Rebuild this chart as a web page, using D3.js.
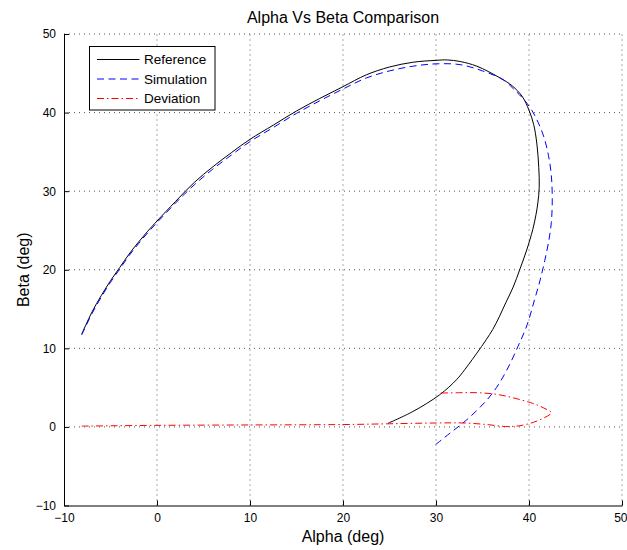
<!DOCTYPE html>
<html>
<head>
<meta charset="utf-8">
<script src="https://cdn.jsdelivr.net/npm/d3@7"></script>
<style>
  html, body { margin: 0; padding: 0; background: #fff; }
  svg { display: block; font-family: "Liberation Sans", Arial, sans-serif; }
</style>
</head>
<body>
<svg id="chart" width="627" height="550"></svg>
<script>
// ---- data (alpha, beta in degrees) ----
const xTicks = [-10, 0, 10, 20, 30, 40, 50];
const yTicks = [-10, 0, 10, 20, 30, 40, 50];

const refAlpha = [-8.1, -7, -6, -5, -4, -3, -2, -1, 0, 2, 4, 6, 8, 10, 12.5, 15, 17.5, 20, 22.5, 25, 27.5, 30, 31.2, 32.6, 34.4, 36.9, 38.2, 39.3, 40.0, 40.5, 40.85, 41.05, 41.1, 40.95, 40.75, 40.4, 39.75, 39.0, 38.3, 37.5, 36.8, 36.1, 35.4, 34.7, 33.1, 32.2, 30.4, 27.5, 24.85];
const refBeta  = [11.8, 14.6, 16.7, 18.6, 20.3, 22.0, 23.5, 24.9, 26.2, 28.7, 31.1, 33.1, 34.9, 36.6, 38.4, 40.2, 41.8, 43.3, 44.8, 45.8, 46.4, 46.65, 46.7, 46.5, 45.9, 44.4, 43.4, 42.0, 40.3, 38.5, 36.0, 33.0, 30.5, 28.5, 27.0, 25.1, 22.5, 20.0, 17.8, 15.8, 14.0, 12.4, 11.1, 9.9, 7.3, 6.0, 4.1, 1.95, 0.47];

const simAlpha = [-8.1, -7, -6, -5, -4, -3, -2, -1, 0, 2, 4, 6, 8, 10, 12.5, 15, 17.5, 20, 22.5, 25, 27.5, 30, 32.6, 35.0, 37.2, 38.6, 39.5, 40.3, 41.0, 41.6, 42.1, 42.4, 42.5, 42.4, 42.1, 41.7, 41.2, 40.6, 39.8, 38.8, 37.6, 36.5, 35.3, 33.3, 31.5, 29.9];
const simBeta  = [11.7, 14.4, 16.5, 18.4, 20.1, 21.8, 23.3, 24.7, 26.0, 28.5, 30.8, 32.8, 34.6, 36.3, 38.1, 39.9, 41.5, 43.0, 44.4, 45.3, 45.9, 46.2, 46.1, 45.3, 44.2, 42.7, 41.6, 40.3, 38.7, 36.9, 34.5, 32.0, 29.0, 26.0, 23.5, 21.2, 18.7, 16.2, 13.0, 10.2, 7.2, 5.0, 3.2, 0.9, -0.8, -2.3];

const devAlpha = [-8.1, 0, 10, 20, 25, 30, 33, 35.5, 37.5, 39.0, 40.5, 41.7, 42.4, 41.6, 40.4, 38.3, 36.5, 34.5, 32.5, 30.2];
const devBeta  = [0.1, 0.2, 0.25, 0.3, 0.4, 0.5, 0.5, 0.3, 0.05, 0.15, 0.6, 1.2, 1.8, 2.4, 3.0, 3.7, 4.15, 4.35, 4.35, 4.3];

const seriesNames = ["Reference", "Simulation", "Deviation"];

// ---- layout ----
const svg = d3.select("#chart");
const L = 64, R = 622, T = 34, B = 505.5;
const x = d3.scaleLinear().domain([-10, 50]).range([L, R]);
const y = d3.scaleLinear().domain([-10, 50]).range([B, T]);

// grid
const grid = svg.append("g").attr("stroke", "#555").attr("stroke-width", 1).attr("stroke-dasharray", "1,4");
xTicks.forEach(t => {
  if (t === -10) return;
  grid.append("line").attr("x1", x(t)).attr("x2", x(t)).attr("y1", B).attr("y2", T);
});
yTicks.forEach(t => {
  if (t === -10) return;
  grid.append("line").attr("x1", L).attr("x2", R).attr("y1", y(t)).attr("y2", y(t));
});

// axes
const fmt = d => d < 0 ? "\u2212" + Math.abs(d) : d;
const xAxis = d3.axisBottom(x).tickValues(xTicks).tickSizeInner(-5).tickSizeOuter(0).tickPadding(8).tickFormat(fmt);
const yAxis = d3.axisLeft(y).tickValues(yTicks).tickSizeInner(-5).tickSizeOuter(0).tickPadding(8).tickFormat(fmt);

const gx = svg.append("g").attr("transform", `translate(0,${B})`).call(xAxis);
const gy = svg.append("g").attr("transform", `translate(${L},0)`).call(yAxis);
[gx, gy].forEach(g => {
  g.selectAll("text").attr("font-size", 12).attr("fill", "#000").attr("font-family", "Liberation Sans, Arial, sans-serif");
  g.selectAll("line").attr("stroke", "#000");
  g.select(".domain").attr("stroke", "#000");
});
// keep the cut-off "50" label inside the picture
gx.selectAll(".tick text").filter(d => d === 50).attr("text-anchor", "end").attr("x", 5);

// lines
const line = d3.line().x(d => x(d[0])).y(d => y(d[1])).curve(d3.curveCatmullRom.alpha(0.5));
const refPts = refAlpha.map((a, i) => [a, refBeta[i]]);
const simPts = simAlpha.map((a, i) => [a, simBeta[i]]);
const devPts = devAlpha.map((a, i) => [a, devBeta[i]]);

const styles = [
  {color: "#000000", dash: null},
  {color: "#0000ff", dash: "7,4.5"},
  {color: "#ff0000", dash: "7,3,1.5,3"}
];
[refPts, simPts, devPts].forEach((pts, i) => {
  svg.append("path").datum(pts).attr("d", line)
    .attr("fill", "none").attr("stroke", styles[i].color).attr("stroke-width", 1)
    .attr("stroke-dasharray", styles[i].dash);
});

// title & labels
svg.append("text").attr("x", (L + R) / 2).attr("y", 23).attr("text-anchor", "middle")
  .attr("font-size", 16).text("Alpha Vs Beta Comparison");
svg.append("text").attr("x", (L + R) / 2).attr("y", 542).attr("text-anchor", "middle")
  .attr("font-size", 16).text("Alpha (deg)");
svg.append("text").attr("transform", `translate(29,${(T + B) / 2}) rotate(-90)`).attr("text-anchor", "middle")
  .attr("font-size", 16).text("Beta (deg)");

// legend
const lg = svg.append("g");
lg.append("rect").attr("x", 89.5).attr("y", 46.5).attr("width", 125.5).attr("height", 63.5)
  .attr("fill", "#fff").attr("stroke", "#000").attr("stroke-width", 1);
seriesNames.forEach((name, i) => {
  const yy = 59.5 + i * 19.5;
  lg.append("line").attr("x1", 97).attr("x2", 139.5).attr("y1", yy).attr("y2", yy)
    .attr("stroke", styles[i].color).attr("stroke-width", 1).attr("stroke-dasharray", styles[i].dash);
  lg.append("text").attr("x", 144).attr("y", yy).attr("dy", "0.35em").attr("font-size", 13.5).text(name);
});
</script>
</body>
</html>
